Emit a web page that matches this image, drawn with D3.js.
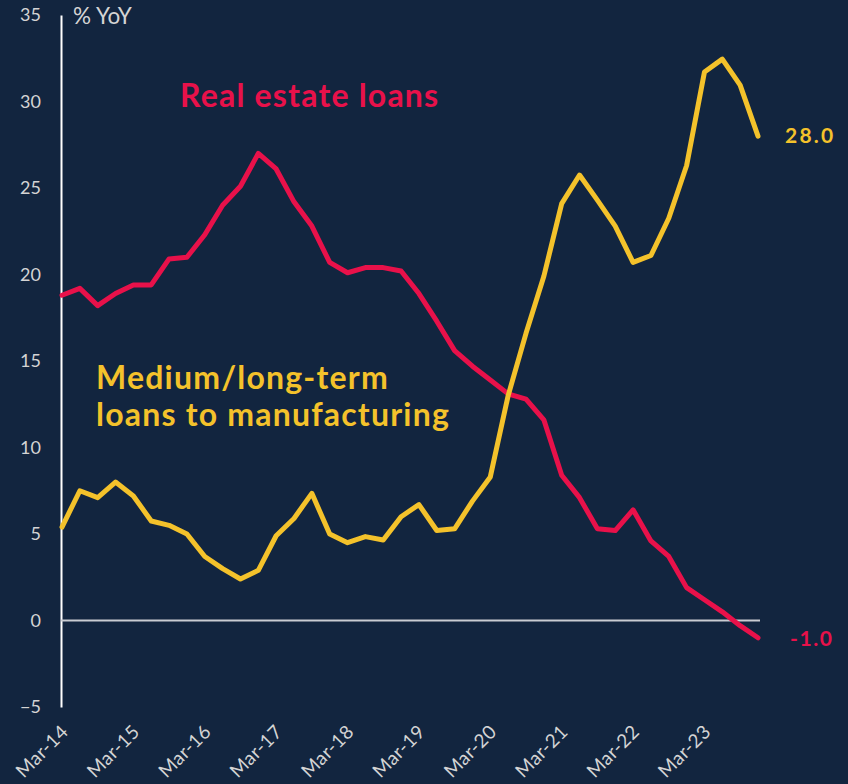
<!DOCTYPE html>
<html><head><meta charset="utf-8">
<script src="https://cdn.jsdelivr.net/npm/d3@7"></script>
<style>
html,body{margin:0;padding:0;background:#12253f;}
svg{display:block;}
</style></head>
<body>
<svg id="chart" width="848" height="784"></svg>
<script>
const quarters = [];
const months = ["Mar","Jun","Sep","Dec"];
for (let y = 14; y <= 23; y++) for (const m of months) quarters.push(m + "-" + y);

const realEstate = [18.8,19.2,18.2,18.9,19.4,19.4,20.9,21.0,22.3,24.0,25.1,27.0,26.1,24.2,22.8,20.7,20.1,20.4,20.4,20.2,18.9,17.3,15.6,14.7,13.9,13.1,12.8,11.6,8.4,7.1,5.3,5.2,6.4,4.6,3.7,1.9,1.2,0.5,-0.3,-1.0];
const manufacturing = [5.4,7.5,7.1,8.0,7.2,5.75,5.5,5.0,3.7,3.0,2.4,2.9,4.9,5.9,7.35,5.0,4.5,4.85,4.65,6.0,6.7,5.2,5.3,6.9,8.3,13.0,16.6,19.9,24.1,25.75,24.3,22.8,20.7,21.1,23.25,26.3,31.7,32.45,30.95,28.0];
const yTicks = [-5,0,5,10,15,20,25,30,35];
const xTickLabels = quarters.filter(q => q.startsWith("Mar"));

const BG = "#12253f", RED = "#e8114a", YEL = "#f4c22b", TXT = "#d4d4d4";
const FONT = "Lato, 'Open Sans', sans-serif";

const svg = d3.select("#chart");
svg.append("rect").attr("width",848).attr("height",784).attr("fill",BG);

const x = d3.scalePoint().domain(quarters).range([62,758]).padding(0);
const y = d3.scaleLinear().domain([-5,35]).range([707,15]);

// y axis
const yAxis = d3.axisLeft(y).tickValues(yTicks).tickSize(0).tickPadding(20);
const gy = svg.append("g").attr("transform","translate(61,0)").call(yAxis);
gy.select(".domain").attr("stroke","#ffffff").attr("stroke-width",2);
gy.selectAll("text").attr("fill",TXT).attr("font-family",FONT).attr("font-size",18);

// zero line
svg.append("line").attr("x1",61).attr("x2",760).attr("y1",y(0)).attr("y2",y(0))
  .attr("stroke","#c9ccd2").attr("stroke-width",2);

// x axis labels
const xAxis = d3.axisBottom(x).tickValues(xTickLabels).tickSize(0).tickPadding(0);
const gx = svg.append("g").attr("transform","translate(0,707)").call(xAxis);
gx.select(".domain").remove();
gx.selectAll("text").attr("fill",TXT).attr("font-family",FONT).attr("font-size",19)
  .attr("letter-spacing",0.4)
  .attr("text-anchor","end").attr("dy",null).attr("y",null)
  .attr("transform","translate(7,26) rotate(-45)");

svg.append("text").attr("x",73).attr("y",24).attr("fill",TXT)
  .attr("font-family",FONT).attr("font-size",22.5).text("% YoY");

const line = d3.line().x((d,i)=>x(quarters[i])).y(d=>y(d));
svg.append("path").datum(realEstate).attr("d",line).attr("fill","none")
  .attr("stroke",RED).attr("stroke-width",5).attr("stroke-linecap","round").attr("stroke-linejoin","round");
svg.append("path").datum(manufacturing).attr("d",line).attr("fill","none")
  .attr("stroke",YEL).attr("stroke-width",5).attr("stroke-linecap","round").attr("stroke-linejoin","round");

// series labels
const lbl = (t, xx, yy, c) => svg.append("text").attr("x",xx).attr("y",yy).attr("fill",c)
  .attr("font-family",FONT).attr("font-weight","bold").attr("font-size",32)
  .attr("letter-spacing",1.2).text(t);
lbl("Real estate loans",180,107,RED);
lbl("Medium/long-term",96,389,YEL);
lbl("loans to manufacturing",96,426,YEL);

// end value labels
const last = quarters.length-1;
svg.append("text").attr("x",785).attr("y",y(manufacturing[last])+7).attr("fill",YEL)
  .attr("font-family",FONT).attr("font-weight","bold").attr("font-size",21).attr("letter-spacing",2.2)
  .text(manufacturing[last].toFixed(1));
svg.append("text").attr("x",790).attr("y",y(realEstate[last])+8).attr("fill",RED)
  .attr("font-family",FONT).attr("font-weight","bold").attr("font-size",21).attr("letter-spacing",1.6)
  .text(realEstate[last].toFixed(1));
</script>
</body></html>
